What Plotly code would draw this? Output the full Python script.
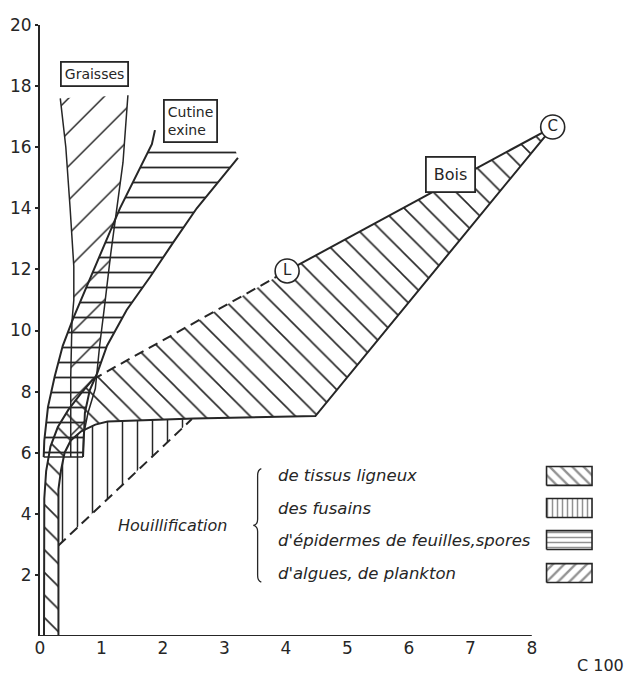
import plotly.graph_objects as go

# --- evolution domains (x: O/C scale, y: H/C scale) ---
# Wood (tissus ligneux): point L, point C, lower break, curved foot and narrow strip to the x axis
L_pt = (4.02, 11.95)
C_pt = (8.34, 16.66)
bois_right_x = [8.34, 4.48, 2.5, 1.5, 1.1, 0.9, 0.67, 0.5, 0.4, 0.34, 0.30, 0.30]
bois_right_y = [16.66, 7.2, 7.12, 7.06, 7.02, 6.92, 6.7, 6.4, 6.0, 5.4, 4.8, 0.0]
bois_left_x = [0.86, 0.67, 0.46, 0.29, 0.17, 0.10, 0.07, 0.065]
bois_left_y = [8.4, 7.95, 7.4, 6.84, 6.2, 5.4, 4.5, 0.0]

# Fusain: below the wood break, dashed lower limit
fus_dash_x = [0.30, 2.47]
fus_dash_y = [2.96, 7.1]
fus_top_x = [2.47, 1.5, 1.1, 0.9, 0.67, 0.5, 0.4, 0.34, 0.30]
fus_top_y = [7.1, 7.06, 7.02, 6.92, 6.7, 6.4, 6.0, 5.4, 4.8]

# Cutine / exine band
cut_left_x = [1.87, 1.82, 1.30, 1.00, 0.73, 0.54, 0.37, 0.24, 0.13, 0.07, 0.06]
cut_left_y = [16.56, 16.1, 14.0, 12.6, 11.3, 10.4, 9.5, 8.5, 7.5, 6.4, 5.86]
cut_right_x = [3.22, 2.55, 2.16, 1.79, 1.41, 1.09, 0.93, 0.81, 0.73, 0.71, 0.70]
cut_right_y = [15.65, 14.0, 12.86, 11.75, 10.67, 9.5, 8.6, 8.05, 7.3, 6.6, 5.86]
cut_top_x = [3.15]
cut_top_y = [16.1]

# Graisses (fats) band
gr_left_x = [0.33, 0.42, 0.49, 0.52, 0.55, 0.55, 0.52, 0.50, 0.50]
gr_left_y = [17.6, 16.0, 14.0, 13.2, 12.1, 11.0, 10.3, 8.5, 5.86]
gr_right_x = [1.43, 1.35, 1.27, 1.15, 1.05, 0.97, 0.90, 0.78, 0.71, 0.70]
gr_right_y = [17.7, 15.5, 14.3, 12.5, 10.8, 9.5, 8.1, 7.3, 6.6, 5.86]

# Axis ticks
x_ticks = [0, 1, 2, 3, 4, 5, 6, 7, 8]
y_ticks = [2, 4, 6, 8, 10, 12, 14, 16, 18, 20]

# Legend of hatchings
legend_labels = ["de tissus ligneux", "des fusains",
                 "d'épidermes de feuilles,spores", "d'algues, de plankton"]
legend_shapes = ["\\", "|", "-", "/"]
legend_rows_y = [5.24, 4.19, 3.14, 2.06]
swatch_x = [8.24, 8.98]
swatch_h = 0.31

INK = "#262626"
FONT = "DejaVu Sans"
NONE = "rgba(0,0,0,0)"

fig = go.Figure()


def hatch(xs, ys, shape, size, solidity=0.1):
    fig.add_trace(go.Scatter(
        x=xs, y=ys, mode="lines", fill="toself", fillcolor=NONE,
        line=dict(width=0, color=NONE),
        fillpattern=dict(shape=shape, size=size, solidity=solidity,
                         fgcolor=INK, bgcolor=NONE, fillmode="replace"),
        hoverinfo="skip", showlegend=False))


def line(xs, ys, width=2, dash="solid"):
    fig.add_trace(go.Scatter(
        x=xs, y=ys, mode="lines", line=dict(color=INK, width=width, dash=dash),
        hoverinfo="skip", showlegend=False))


# hatched areas
bois_x = [L_pt[0]] + bois_right_x + bois_left_x[::-1]
bois_y = [L_pt[1]] + bois_right_y + bois_left_y[::-1]
hatch(bois_x, bois_y, "\\", 16)

fus_x = fus_dash_x + fus_top_x[1:]
fus_y = fus_dash_y + fus_top_y[1:]
hatch(fus_x, fus_y, "|", 15)

cut_x = cut_left_x[1:] + cut_right_x[::-1] + cut_top_x
cut_y = cut_left_y[1:] + cut_right_y[::-1] + cut_top_y
hatch(cut_x, cut_y, "-", 15, 0.12)

gr_x = gr_left_x + gr_right_x[::-1]
gr_y = gr_left_y + gr_right_y[::-1]
hatch(gr_x, gr_y, "/", 24, 0.06)

# outlines
line([L_pt[0], C_pt[0]], [L_pt[1], C_pt[1]])
line(bois_right_x, bois_right_y)
line(bois_left_x, bois_left_y)
line([bois_left_x[0], L_pt[0]], [bois_left_y[0], L_pt[1]], dash="10px,6px")
line(fus_dash_x, fus_dash_y, dash="10px,6px")
line(cut_left_x, cut_left_y)
line(cut_right_x, cut_right_y)
line([cut_left_x[-1], cut_right_x[-1]], [cut_left_y[-1], cut_right_y[-1]], width=1.5)
line(gr_left_x, gr_left_y, width=1.5)
line(gr_right_x, gr_right_y, width=1.5)

# points L and C
fig.add_trace(go.Scatter(
    x=[L_pt[0], C_pt[0]], y=[L_pt[1], C_pt[1]], mode="markers+text",
    text=["L", "C"], textposition="middle center",
    textfont=dict(family=FONT, size=15, color=INK),
    marker=dict(size=24, color="white", line=dict(color=INK, width=1.6)),
    hoverinfo="skip", showlegend=False))

# legend swatches
for shape, yc in zip(legend_shapes, legend_rows_y):
    sx = [swatch_x[0], swatch_x[1], swatch_x[1], swatch_x[0], swatch_x[0]]
    sy = [yc - swatch_h, yc - swatch_h, yc + swatch_h, yc + swatch_h, yc - swatch_h]
    fig.add_trace(go.Scatter(
        x=sx, y=sy, mode="lines", fill="toself", fillcolor=NONE,
        line=dict(color=INK, width=1.6),
        fillpattern=dict(shape=shape, size=8 if shape in "\\/" else 5,
                         solidity=0.3, fgcolor=INK, bgcolor=NONE),
        hoverinfo="skip", showlegend=False))

annotations = []
for label, yc in zip(legend_labels, legend_rows_y):
    annotations.append(dict(x=3.84, y=yc, xref="x", yref="y", text=label,
                            showarrow=False, xanchor="left", yanchor="middle",
                            font=dict(family=FONT, size=16.5, color=INK, style="italic")))
annotations += [
    dict(x=2.15, y=3.63, xref="x", yref="y", text="Houillification", showarrow=False,
         font=dict(family=FONT, size=16, color=INK, style="italic")),
    dict(x=0.89, y=18.38, xref="x", yref="y", text="Graisses", showarrow=False,
         font=dict(family=FONT, size=14, color=INK), bgcolor="white",
         bordercolor=INK, borderwidth=1.8, borderpad=3),
    dict(x=2.44, y=16.86, xref="x", yref="y", text="Cutine<br>exine", showarrow=False,
         align="left", font=dict(family=FONT, size=14, color=INK), bgcolor="white",
         bordercolor=INK, borderwidth=1.8, borderpad=3),
    dict(x=6.68, y=15.12, xref="x", yref="y", text="Bois", showarrow=False,
         font=dict(family=FONT, size=16, color=INK), bgcolor="white",
         bordercolor=INK, borderwidth=1.8, borderpad=7),
    dict(x=0.959, y=-0.048, xref="paper", yref="paper", text="C 100", showarrow=False,
         xanchor="center", yanchor="middle",
         font=dict(family=FONT, size=16, color=INK)),
]

shapes = [
    # x axis line stops at 8
    dict(type="line", xref="x", yref="y", x0=0, x1=8, y0=0, y1=0,
         line=dict(color=INK, width=2)),
    # brace grouping the legend lines
    dict(type="path", xref="x", yref="y",
         path="M 3.60,5.48 Q 3.54,5.44 3.54,5.25 L 3.54,3.82 Q 3.54,3.64 3.47,3.62 "
              "Q 3.54,3.60 3.54,3.42 L 3.54,1.98 Q 3.54,1.80 3.60,1.76",
         line=dict(color=INK, width=1.3)),
]

fig.update_layout(
    width=628, height=683,
    margin=dict(l=40, r=4, t=25, b=47),
    paper_bgcolor="white", plot_bgcolor="white",
    annotations=annotations, shapes=shapes,
    xaxis=dict(range=[0, 9.5], tickvals=x_ticks, ticktext=[str(v) for v in x_ticks],
               showgrid=False, zeroline=False, showline=False, ticks="",
               tickfont=dict(family=FONT, size=17, color=INK)),
    yaxis=dict(range=[0, 20], tickvals=y_ticks, ticktext=[str(v) for v in y_ticks],
               showgrid=False, zeroline=False, showline=True, linecolor=INK, linewidth=2,
               ticks="outside", ticklen=3, tickwidth=1.5, tickcolor=INK,
               tickfont=dict(family=FONT, size=17, color=INK)),
)

fig.write_html("out.html")
